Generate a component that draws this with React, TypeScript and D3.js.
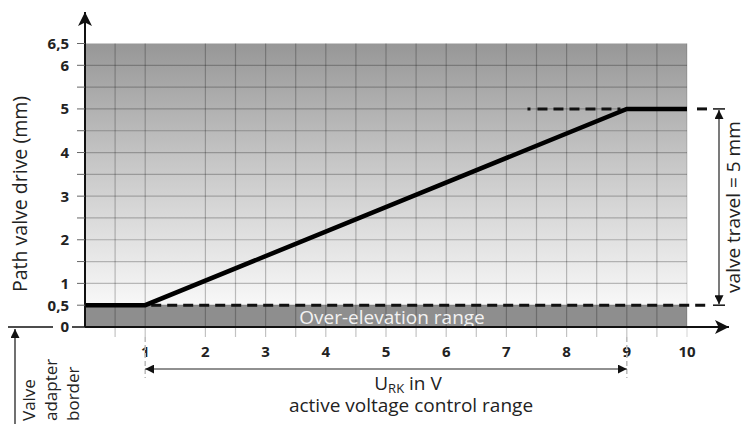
import { useMemo } from "react";
import * as d3 from "d3";

// Valve characteristic: stroke vs. control voltage
const voltage = [0, 1, 9, 10];
const stroke = [0.5, 0.5, 5, 5];

const xTicks = [1, 2, 3, 4, 5, 6, 7, 8, 9, 10];
const yTicks = [0, 0.5, 1, 2, 3, 4, 5, 6, 6.5];
const yTickLabels = ["0", "0,5", "1", "2", "3", "4", "5", "6", "6,5"];

const overElevation = 0.5; // lower bound of the active range
const fullTravel = 5; // upper bound
const activeRange = [1, 9];

const W = 745;
const H = 424;
const FONT = "'Open Sans', 'DejaVu Sans', sans-serif";

export default function App() {
  const x = useMemo(() => d3.scaleLinear().domain([0, 10]).range([85, 687]), []);
  const y = useMemo(() => d3.scaleLinear().domain([0, 6.5]).range([327, 43.5]), []);

  const gridX = d3.range(0.5, 10, 0.5).filter((v) => v !== 1.5);
  const gridY = d3.range(0.5, 6.5, 0.5);
  const leftTicks = d3.range(0.5, 6.51, 0.5);

  const line = d3
    .line<number>()
    .x((_, i) => x(voltage[i]))
    .y((d) => y(d));

  const x0 = x(0);
  const x10 = x(10);
  const y0 = y(0);

  return (
    <svg width={W} height={H} style={{ position: "absolute", left: 0, top: 0 }} fontFamily={FONT}>
      <defs>
        <linearGradient id="bg" x1="0" y1={y(6.5)} x2="0" y2={y(overElevation)} gradientUnits="userSpaceOnUse">
          <stop offset="0" stopColor="#979797" />
          <stop offset="0.45" stopColor="#c6c6c6" />
          <stop offset="1" stopColor="#f8f8f8" />
        </linearGradient>
        <marker id="ah" viewBox="0 0 10 10" refX="10" refY="5" markerWidth="9" markerHeight="9" orient="auto-start-reverse" markerUnits="userSpaceOnUse">
          <path d="M0,0 L10,5 L0,10 z" fill="#111" />
        </marker>
        <marker id="big" viewBox="0 0 10 10" refX="10" refY="5" markerWidth="16" markerHeight="14" orient="auto" markerUnits="userSpaceOnUse">
          <path d="M0,0 L10,5 L0,10 L2.5,5 z" fill="#111" />
        </marker>
      </defs>

      {/* plot background */}
      <rect x={x0} y={y(6.5)} width={x10 - x0} height={y(overElevation) - y(6.5)} fill="url(#bg)" />
      <rect x={x0} y={y(overElevation)} width={x10 - x0} height={y0 - y(overElevation)} fill="#8e8e8e" />

      {/* grid */}
      {gridX.map((v) => (
        <line key={"gx" + v} x1={x(v)} x2={x(v)} y1={y(6.5)} y2={y0 + 10} stroke="#000" strokeOpacity={0.24} strokeWidth={1.2} />
      ))}
      {gridY.map((v) => (
        <line key={"gy" + v} x1={x0} x2={x10} y1={y(v)} y2={y(v)} stroke="#000" strokeOpacity={0.24} strokeWidth={1.2} />
      ))}
      <line x1={x10} x2={x10} y1={y(6.5)} y2={y0 + 10} stroke="#000" strokeOpacity={0.15} strokeWidth={1.2} />

      <text x={392} y={y0 - 3} textAnchor="middle" fontSize={19} fill="#f2f2f2">
        Over-elevation range
      </text>

      {/* dashed reference levels */}
      <line x1={x(activeRange[0]) + 6} x2={707} y1={y(overElevation)} y2={y(overElevation)} stroke="#111" strokeWidth={3} strokeDasharray="10 6" />
      <line x1={x(7.35)} x2={x(activeRange[1])} y1={y(fullTravel)} y2={y(fullTravel)} stroke="#111" strokeWidth={3} strokeDasharray="3 7 10 6 10 6 10 6 10 6 10 6" />
      <line x1={697} x2={707} y1={y(fullTravel)} y2={y(fullTravel)} stroke="#111" strokeWidth={3} />

      {/* characteristic */}
      <path d={line(stroke) ?? ""} fill="none" stroke="#000" strokeWidth={4.5} strokeLinejoin="miter" />

      {/* y axis */}
      <line x1={x0} x2={x0} y1={y0} y2={12} stroke="#111" strokeWidth={2} markerEnd="url(#big)" />
      {leftTicks.map((v) => (
        <line key={"lt" + v} x1={77} x2={x0} y1={y(v)} y2={y(v)} stroke="#666" strokeWidth={1} />
      ))}
      {yTicks.map((v, i) => (
        <text key={"yl" + v} x={69} y={y(v)} dy="0.36em" textAnchor="end" fontSize={15} fontWeight={700} fill="#222">
          {yTickLabels[i]}
        </text>
      ))}
      <text transform={`translate(27,194) rotate(-90)`} textAnchor="middle" fontSize={19.5} fill="#222">
        Path valve drive (mm)
      </text>

      {/* x axis */}
      <line x1={x0} x2={729} y1={y0} y2={y0} stroke="#111" strokeWidth={2} markerEnd="url(#big)" />
      {xTicks.map((v) => (
        <text key={"xl" + v} x={x(v)} y={357} textAnchor="middle" fontSize={15} fontWeight={700} fill="#222">
          {v}
        </text>
      ))}

      {/* valve adapter border */}
      <line x1={8} x2={53} y1={y0} y2={y0} stroke="#111" strokeWidth={1.5} />
      <line x1={72} x2={x0} y1={y0} y2={y0} stroke="#111" strokeWidth={1.5} />
      <line x1={15} x2={15} y1={H} y2={y0 + 2} stroke="#111" strokeWidth={1.2} markerEnd="url(#ah)" />
      {["Valve", "adapter", "border"].map((t, i) => (
        <text key={t} transform={`translate(${35 + i * 22},421) rotate(-90)`} fontSize={17} fill="#222">
          {t}
        </text>
      ))}

      {/* active voltage control range */}
      {activeRange.map((v) => (
        <line key={"ar" + v} x1={x(v)} x2={x(v)} y1={y0 + 10} y2={378} stroke="#bbb" strokeWidth={1.5} strokeDasharray="5 3" />
      ))}
      <line x1={x(activeRange[0])} x2={x(activeRange[1])} y1={369} y2={369} stroke="#222" strokeWidth={1.2} markerStart="url(#ah)" markerEnd="url(#ah)" />
      <text x={408} y={390} textAnchor="middle" fontSize={19} fill="#222">
        U<tspan fontSize={13} dy={3}>RK</tspan>
        <tspan dy={-3}> in V</tspan>
      </text>
      <text x={411} y={412} textAnchor="middle" fontSize={19} fill="#222">
        active voltage control range
      </text>

      {/* valve travel */}
      <line x1={713} x2={725} y1={y(fullTravel)} y2={y(fullTravel)} stroke="#111" strokeWidth={1.5} />
      <line x1={713} x2={725} y1={y(overElevation)} y2={y(overElevation)} stroke="#111" strokeWidth={1.5} />
      <line x1={719} x2={719} y1={y(overElevation) - 1} y2={y(fullTravel) + 1} stroke="#222" strokeWidth={1.2} markerStart="url(#ah)" markerEnd="url(#ah)" />
      <text transform={`translate(740,${(y(overElevation) + y(fullTravel)) / 2}) rotate(-90)`} textAnchor="middle" fontSize={19} fill="#222">
        valve travel = 5 mm
      </text>
    </svg>
  );
}
